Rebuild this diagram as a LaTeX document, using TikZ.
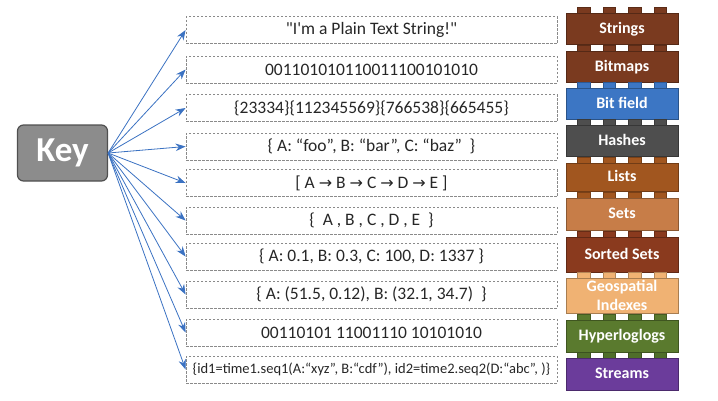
\documentclass[tikz,border=0pt]{standalone}
\usepackage{fontspec}
\setmainfont{Carlito}
\newfontfamily\cf{Carlito}
\newfontfamily\symf{DejaVu Sans}
\usetikzlibrary{arrows.meta}
\definecolor{keyfill}{HTML}{8C8C8C}
\definecolor{keyline}{HTML}{505050}
\definecolor{linkblue}{HTML}{3B72C2}
\definecolor{dashgray}{HTML}{8A8A8A}
\definecolor{cStrings}{HTML}{7A3A1F}
\definecolor{cBitmaps}{HTML}{7A3A1F}
\definecolor{cBitfield}{HTML}{3C76C4}
\definecolor{cHashes}{HTML}{4E4E4E}
\definecolor{cLists}{HTML}{A1561F}
\definecolor{cSets}{HTML}{C77D48}
\definecolor{cSorted}{HTML}{8A3A1E}
\definecolor{cGeo}{HTML}{F0B273}
\definecolor{cHyper}{HTML}{5A7A2E}
\definecolor{cStreams}{HTML}{6B3C9B}
\definecolor{cStudGreen}{HTML}{4F6E2A}
\newcommand{\arr}{{\symf\fontsize{16}{18}\selectfont →}}
\tikzset{
  keybox/.style={draw=keyline, line width=1.2pt, fill=keyfill, rounded corners=6pt,
    minimum width=90pt, minimum height=56pt, text=white,
    font=\cf\bfseries\fontsize{35}{40}\selectfont},
  valbox/.style={draw=dashgray, dash pattern=on 2.5pt off 1.5pt, line width=0.8pt,
    minimum width=371pt, minimum height=27pt, inner sep=0pt,
    font=\cf\fontsize{17.5}{20}\selectfont, text=black!85},
  link/.style={draw=linkblue, line width=0.8pt, -{Stealth[length=10pt,width=7.5pt]}},
  brick/.style={draw=#1!70!black, line width=0.5pt, fill=#1, minimum width=112pt,
    inner sep=0pt, text=white, align=center, text height=11pt, text depth=2pt,
    font=\cf\bfseries\fontsize{16}{18}\selectfont},
  stud/.style={fill=#1, draw=#1!75!black, line width=0.4pt}
}
\begin{document}
\begin{tikzpicture}[x=1pt, y=-1pt]
\useasboundingbox (0,0) rectangle (718,400);

% the key
\node[keybox] (key) at (62.5,153) {Key};

% the value boxes
\node[valbox] (v1)  at (371.5,30)    {"I'm a Plain Text String!"};
\node[valbox] (v2)  at (371.5,69.5)  {001101010110011100101010};
\node[valbox] (v3)  at (371.5,108)   {\{23334\}\{112345569\}\{766538\}\{665455\}};
\node[valbox] (v4)  at (371.5,146.5) {\{ A: “foo”, B: “bar”, C: “baz”~ \}};
\node[valbox] (v5)  at (371.5,183)   {[ A \arr{} B \arr{} C \arr{} D \arr{} E ]};
\node[valbox] (v6)  at (371.5,220.5) {\{~ A , B , C , D , E~ \}};
\node[valbox] (v7)  at (371.5,256.5) {\{ A: 0.1, B: 0.3, C: 100, D: 1337 \}};
\node[valbox] (v8)  at (371.5,294.5) {\{ A: (51.5, 0.12), B: (32.1, 34.7)~ \}};
\node[valbox] (v9)  at (371.5,332.5) {00110101 11001110 10101010};
\node[valbox, font=\cf\fontsize{14.5}{17}\selectfont] (v10) at (371.5,369.5)
  {\{id1=time1.seq1(A:“xyz”, B:“cdf”), id2=time2.seq2(D:“abc”, )\}};

% connectors from the key to each value
\coordinate (hub) at (key.east);
\foreach \i in {1,...,10} {
  \draw[link] (hub) -- (v\i.west);
}

% the bricks: name, colour, stud colour, top, bottom, label
\foreach \n/\c/\s/\t/\b/\l in {
  bStrings/cStrings/cStrings/13/44/Strings,
  bBitmaps/cBitmaps/cBitmaps/51/82/Bitmaps,
  bBitfield/cBitfield/cBitfield/88/119/Bit field,
  bHashes/cHashes/cHashes/125/156/Hashes,
  bLists/cLists/cLists/163/191/Lists,
  bSets/cSets/cLists/198/230/Sets,
  bSorted/cSorted/cSorted/237/272/Sorted Sets,
  bHyper/cHyper/cHyper/320/352/Hyperloglogs,
  bStreams/cStreams/cStudGreen/358/390/Streams} {
  \foreach \dx in {-38.25,-12.75,12.75,38.25} {
    \draw[stud=\s] (622+\dx-6.2,\t-6) rectangle (622+\dx+6.2,\t);
  }
  \node[brick=\c, minimum height=\b-\t] (\n) at (622,{(\t+\b)/2}) {\l};
}
% the two-line brick
\foreach \dx in {-38.25,-12.75,12.75,38.25} {
  \draw[stud=cGeo] (622+\dx-6.2,272) rectangle (622+\dx+6.2,278);
}
\node[brick=cGeo, minimum height=35pt, text height=, text depth=,
  font=\cf\bfseries\fontsize{16}{19}\selectfont] (bGeo) at (622,295.5)
  {Geospatial\\Indexes};
\end{tikzpicture}
\end{document}
